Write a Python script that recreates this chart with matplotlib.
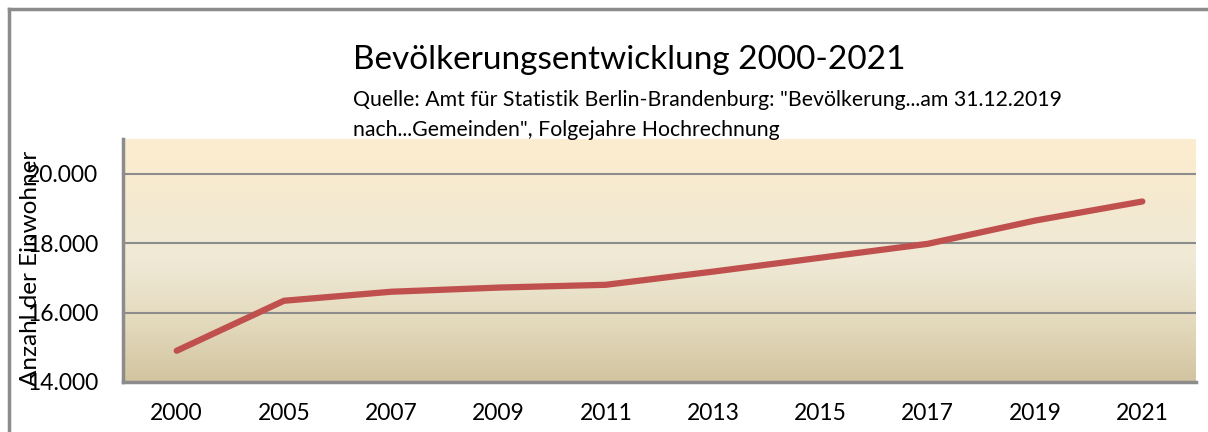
import numpy as np
import matplotlib.pyplot as plt
from matplotlib.colors import LinearSegmentedColormap
from matplotlib.lines import Line2D

years = ['2000', '2005', '2007', '2009', '2011', '2013', '2015', '2017', '2019', '2021']
einwohner = [14900, 16340, 16600, 16720, 16800, 17180, 17580, 17980, 18650, 19200]
yticks = [14000, 16000, 18000, 20000]
ytick_labels = ['14.000', '16.000', '18.000', '20.000']

plt.rcParams['font.family'] = ['Lato', 'DejaVu Sans']

fig = plt.figure(figsize=(12.08, 4.32), dpi=100)
ax = fig.add_axes([123 / 1208, 1 - 382 / 432, (1196 - 123) / 1208, (382 - 139) / 432])

# background gradient inside plot area
grad = LinearSegmentedColormap.from_list('bg', ['#d2c4a0', '#e4dabd', '#efe9d6', '#f5ead0', '#fdedcf'])
ax.imshow(np.linspace(0, 1, 256).reshape(-1, 1), aspect='auto', cmap=grad,
          extent=[-0.5, 9.5, 14000, 21000], origin='lower', zorder=0)

x = np.arange(len(years))
ax.plot(x, einwohner, color='#c0504d', lw=4.5, solid_capstyle='round', zorder=3)

ax.set_xlim(-0.5, 9.5)
ax.set_ylim(14000, 21000)
ax.set_yticks(yticks)
ax.set_yticklabels(ytick_labels, fontsize=16.5)
ax.set_xticks(x)
ax.set_xticklabels(years, fontsize=16.5)
ax.tick_params(length=0)
ax.tick_params(axis='y', pad=18)
ax.tick_params(axis='x', pad=15)
ax.grid(axis='y', color='#8c8c8c', lw=1.5, zorder=1)
ax.set_axisbelow(False)
for s in ['top', 'right']:
    ax.spines[s].set_visible(False)
ax.spines['left'].set_color('#8c8c8c')
ax.spines['left'].set_linewidth(2.5)
ax.spines['bottom'].set_color('#8c8c8c')
ax.spines['bottom'].set_linewidth(2.5)

fig.text(31 / 1208, 1 - 268 / 432, 'Anzahl der Einwohner', rotation=90, fontsize=17.5,
         ha='center', va='center')

fig.text(353 / 1208, 1 - 60 / 432, 'Bevölkerungsentwicklung 2000-2021', fontsize=24,
         ha='left', va='center')
fig.text(353 / 1208, 1 - 100 / 432,
         'Quelle: Amt für Statistik Berlin-Brandenburg: "Bevölkerung...am 31.12.2019',
         fontsize=15.3, ha='left', va='center')
fig.text(353 / 1208, 1 - 130 / 432, 'nach...Gemeinden", Folgejahre Hochrechnung',
         fontsize=15.3, ha='left', va='center')

# chart frame (left and top edges)
fig.add_artist(Line2D([9 / 1208, 9 / 1208], [0, 1 - 9 / 432], color='#8c8c8c', lw=2.5,
                      transform=fig.transFigure))
fig.add_artist(Line2D([9 / 1208, 1], [1 - 9 / 432, 1 - 9 / 432], color='#8c8c8c', lw=2.5,
                      transform=fig.transFigure))

fig.savefig('out.png', dpi=100)
